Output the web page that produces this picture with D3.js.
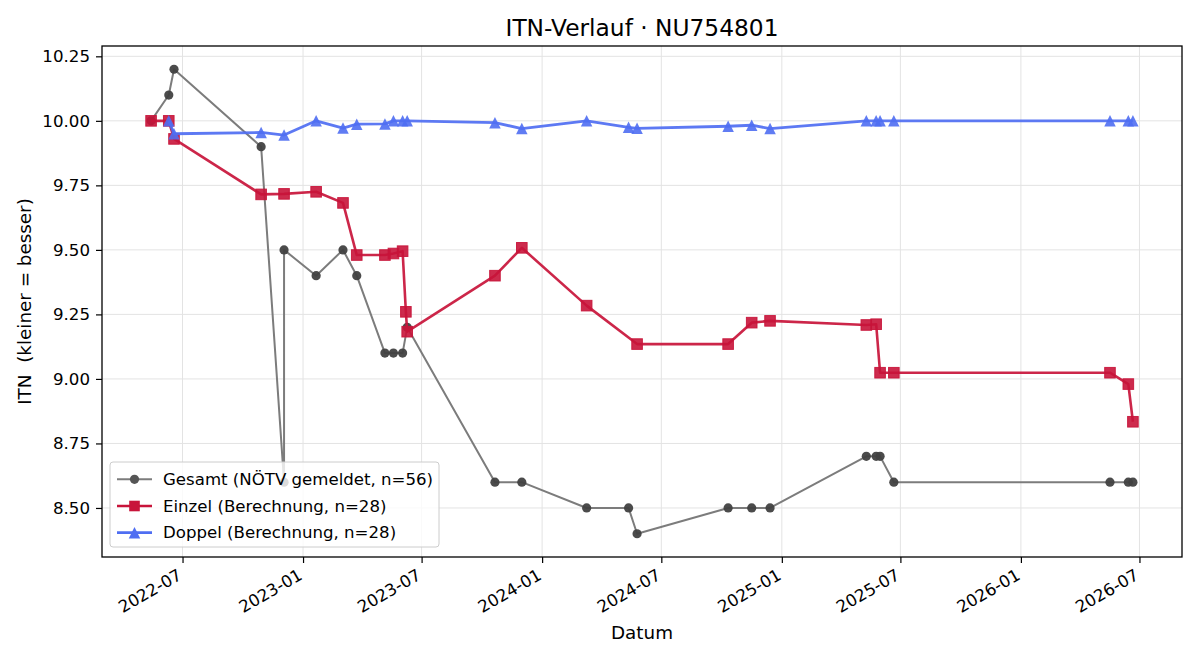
<!DOCTYPE html>
<html>
<head>
<meta charset="utf-8">
<script src="https://cdn.jsdelivr.net/npm/d3@7"></script>
<style>
  html, body { margin: 0; padding: 0; background: #fff; }
  svg { display: block; font-family: "DejaVu Sans", sans-serif; }
</style>
</head>
<body>
<svg id="chart" width="1200" height="660"></svg>
<script>
// ---------- Data ----------
const titleText = "ITN-Verlauf · NU754801";
const xLabel = "Datum";
const yLabel = "ITN  (kleiner = besser)";
const yTicks = [8.50, 8.75, 9.00, 9.25, 9.50, 9.75, 10.00, 10.25];

const gesamtDates = ["2022-05-14","2022-06-10","2022-06-18","2022-10-29","2022-12-03","2022-12-03",
  "2023-01-21","2023-03-03","2023-03-24","2023-05-06","2023-05-19","2023-06-02","2023-06-09",
  "2023-10-21","2023-12-01","2024-03-09","2024-05-12","2024-05-25","2024-10-11","2024-11-16",
  "2024-12-14","2025-05-10","2025-05-25","2025-05-31","2025-06-21","2026-05-17","2026-06-14","2026-06-21"];
const gesamtValues = [10.00,10.10,10.20,9.90,8.60,9.50,
  9.40,9.50,9.40,9.10,9.10,9.10,9.20,
  8.60,8.60,8.50,8.50,8.40,8.50,8.50,
  8.50,8.70,8.70,8.70,8.60,8.60,8.60,8.60];

const einzelDates = ["2022-05-14","2022-06-10","2022-06-18","2022-10-29","2022-12-03","2023-01-21",
  "2023-03-03","2023-03-24","2023-05-06","2023-05-19","2023-06-02","2023-06-07","2023-06-09",
  "2023-10-21","2023-12-01","2024-03-09","2024-05-25","2024-10-11","2024-11-16","2024-12-14",
  "2025-05-10","2025-05-25","2025-05-31","2025-06-21","2026-05-17","2026-06-14","2026-06-21"];
const einzelValues = [10.00,10.00,9.93,9.715,9.717,9.725,
  9.682,9.48,9.48,9.486,9.495,9.26,9.183,
  9.40,9.508,9.284,9.135,9.135,9.218,9.225,
  9.209,9.212,9.024,9.024,9.024,8.98,8.834];

const doppelDates = ["2022-06-10","2022-06-18","2022-10-29","2022-12-03","2023-01-21","2023-03-03",
  "2023-03-24","2023-05-06","2023-05-19","2023-06-02","2023-06-09","2023-10-21","2023-12-01",
  "2024-03-09","2024-05-12","2024-05-25","2024-10-11","2024-11-16","2024-12-14","2025-05-10",
  "2025-05-25","2025-05-31","2025-06-21","2026-05-17","2026-06-14","2026-06-21"];
const doppelValues = [10.00,9.95,9.955,9.945,10.00,9.972,
  9.987,9.988,10.00,10.00,10.00,9.993,9.97,
  10.00,9.975,9.971,9.979,9.983,9.97,10.00,
  10.00,10.00,10.00,10.00,10.00,10.00];

const seriesNames = ["Gesamt (NÖTV gemeldet, n=56)", "Einzel (Berechnung, n=28)", "Doppel (Berechnung, n=28)"];

// ---------- Layout ----------
const FONT = '"DejaVu Sans", sans-serif';
const svg = d3.select("#chart");
const M = {left: 102, right: 1182, top: 46, bottom: 557};
const parse = d3.utcParse("%Y-%m-%d");

const gesamt = gesamtDates.map((d, i) => ({date: parse(d), value: gesamtValues[i]}));
const einzel = einzelDates.map((d, i) => ({date: parse(d), value: einzelValues[i]}));
const doppel = doppelDates.map((d, i) => ({date: parse(d), value: doppelValues[i]}));
const all = gesamt.concat(einzel, doppel);

const xExt = d3.extent(all, d => d.date);
const xPad = (xExt[1] - xExt[0]) * 0.05;
const x = d3.scaleUtc()
  .domain([new Date(+xExt[0] - xPad), new Date(+xExt[1] + xPad)])
  .range([M.left, M.right]);

const yExt = d3.extent(all, d => d.value);
const yPad = (yExt[1] - yExt[0]) * 0.05;
const y = d3.scaleLinear()
  .domain([yExt[0] - yPad, yExt[1] + yPad])
  .range([M.bottom, M.top]);

const xTicks = d3.utcMonth.every(6).range(x.domain()[0], x.domain()[1]);
const fmt = d3.utcFormat("%Y-%m");

// grid
const grid = svg.append("g");
grid.selectAll("line.gx").data(xTicks).join("line")
  .attr("x1", d => x(d)).attr("x2", d => x(d))
  .attr("y1", M.top).attr("y2", M.bottom)
  .attr("stroke", "#e3e3e3").attr("stroke-width", 1);
grid.selectAll("line.gy").data(yTicks).join("line")
  .attr("x1", M.left).attr("x2", M.right)
  .attr("y1", d => y(d)).attr("y2", d => y(d))
  .attr("stroke", "#e3e3e3").attr("stroke-width", 1);

// axes via d3
const xAxis = svg.append("g")
  .attr("transform", `translate(0,${M.bottom})`)
  .call(d3.axisBottom(x).tickValues(xTicks).tickFormat(fmt).tickSize(6).tickSizeOuter(0))
  .attr("font-family", FONT).attr("font-size", 16.67);
xAxis.select(".domain").remove();
xAxis.selectAll(".tick line").attr("stroke", "#000").attr("stroke-width", 1.2);
xAxis.selectAll(".tick text")
  .attr("fill", "#000")
  .attr("text-anchor", "end")
  .attr("dy", null)
  .attr("y", 0)
  .attr("transform", "translate(0,21.5) rotate(-30)");

const yAxis = svg.append("g")
  .attr("transform", `translate(${M.left},0)`)
  .call(d3.axisLeft(y).tickValues(yTicks).tickFormat(d3.format(".2f")).tickSize(6).tickPadding(6).tickSizeOuter(0))
  .attr("font-family", FONT).attr("font-size", 16.67);
yAxis.select(".domain").remove();
yAxis.selectAll(".tick line").attr("stroke", "#000").attr("stroke-width", 1.2);
yAxis.selectAll(".tick text").attr("fill", "#000");

// frame
svg.append("rect")
  .attr("x", M.left).attr("y", M.top)
  .attr("width", M.right - M.left).attr("height", M.bottom - M.top)
  .attr("fill", "none").attr("stroke", "#000").attr("stroke-width", 1.3);

// series
const line = d3.line().x(d => x(d.date)).y(d => y(d.value));
const plot = svg.append("g");

// Gesamt
plot.append("path").datum(gesamt).attr("d", line)
  .attr("fill", "none").attr("stroke", "#7c7c7c").attr("stroke-width", 2)
  .attr("stroke-linejoin", "round");
plot.append("g").selectAll("circle").data(gesamt).join("circle")
  .attr("cx", d => x(d.date)).attr("cy", d => y(d.value)).attr("r", 4.6)
  .attr("fill", "#414141").attr("fill-opacity", 0.95);

// Einzel
const red = "#c8143a";
plot.append("path").datum(einzel).attr("d", line)
  .attr("fill", "none").attr("stroke", red).attr("stroke-width", 2.6)
  .attr("stroke-opacity", 0.92).attr("stroke-linejoin", "round");
plot.append("g").selectAll("rect").data(einzel).join("rect")
  .attr("x", d => x(d.date) - 5.3).attr("y", d => y(d.value) - 5.3)
  .attr("width", 10.6).attr("height", 10.6)
  .attr("fill", red).attr("fill-opacity", 0.9)
  .attr("stroke", red).attr("stroke-width", 1).attr("stroke-opacity", 0.9);

// Doppel
const blue = "#4f6ef2";
const tri = (s) => `M0,${-s/2}L${s/2},${s/2}L${-s/2},${s/2}Z`;
plot.append("path").datum(doppel).attr("d", line)
  .attr("fill", "none").attr("stroke", blue).attr("stroke-width", 2.8)
  .attr("stroke-opacity", 0.92).attr("stroke-linejoin", "round");
plot.append("g").selectAll("path").data(doppel).join("path")
  .attr("transform", d => `translate(${x(d.date)},${y(d.value)})`)
  .attr("d", tri(11.5))
  .attr("fill", blue).attr("fill-opacity", 0.9);

// legend
const lg = svg.append("g").attr("font-family", FONT);
lg.append("rect").attr("x", 110).attr("y", 462).attr("width", 329).attr("height", 85)
  .attr("rx", 3).attr("fill", "#fff").attr("fill-opacity", 0.8)
  .attr("stroke", "#cccccc").attr("stroke-width", 1);
const lgY = [479.3, 506, 532.7];
const lx0 = 117, lx1 = 152, lxm = 134.5;
// gesamt
lg.append("line").attr("x1", lx0).attr("x2", lx1).attr("y1", lgY[0]).attr("y2", lgY[0])
  .attr("stroke", "#7c7c7c").attr("stroke-width", 2);
lg.append("circle").attr("cx", lxm).attr("cy", lgY[0]).attr("r", 4.6).attr("fill", "#555");
// einzel
lg.append("line").attr("x1", lx0).attr("x2", lx1).attr("y1", lgY[1]).attr("y2", lgY[1])
  .attr("stroke", red).attr("stroke-width", 2.6);
lg.append("rect").attr("x", lxm - 5.3).attr("y", lgY[1] - 5.3).attr("width", 10.6).attr("height", 10.6)
  .attr("fill", red);
// doppel
lg.append("line").attr("x1", lx0).attr("x2", lx1).attr("y1", lgY[2]).attr("y2", lgY[2])
  .attr("stroke", blue).attr("stroke-width", 2.8);
lg.append("path").attr("transform", `translate(${lxm},${lgY[2]})`).attr("d", tri(11.5)).attr("fill", blue);
lg.selectAll("text.l").data(seriesNames).join("text")
  .attr("x", 163).attr("y", (d, i) => lgY[i])
  .attr("dominant-baseline", "central")
  .attr("font-size", 16.6).attr("fill", "#000")
  .text(d => d);

// titles
svg.append("text").attr("x", (M.left + M.right) / 2).attr("y", 36)
  .attr("text-anchor", "middle").attr("font-size", 23.3).attr("fill", "#000").text(titleText);
svg.append("text").attr("x", (M.left + M.right) / 2).attr("y", 639)
  .attr("text-anchor", "middle").attr("font-size", 18.33).attr("fill", "#000").text(xLabel);
svg.append("text")
  .attr("transform", `translate(31,${(M.top + M.bottom) / 2}) rotate(-90)`)
  .attr("text-anchor", "middle").attr("font-size", 18.33).attr("fill", "#000")
  .style("white-space", "pre").text(yLabel);
</script>
</body>
</html>
